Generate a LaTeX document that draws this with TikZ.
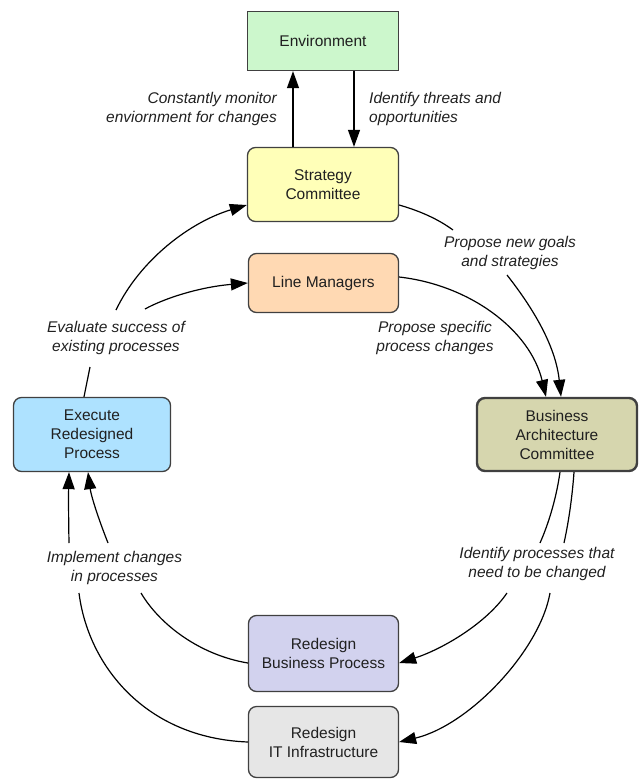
\documentclass[tikz,border=0pt]{standalone}
\usepackage{fontspec}
\setmainfont{Liberation Sans}
\usetikzlibrary{arrows.meta}
\definecolor{envc}{HTML}{CCF7CC}
\definecolor{stratc}{HTML}{FFFFB8}
\definecolor{lmc}{HTML}{FFD9B3}
\definecolor{exc}{HTML}{AEE2FF}
\definecolor{bacc}{HTML}{D6D6AE}
\definecolor{rbpc}{HTML}{D2D2EE}
\definecolor{ritc}{HTML}{E6E6E6}
\definecolor{edgec}{HTML}{404040}
\definecolor{txtc}{HTML}{202020}
\tikzset{
  box/.style={draw=edgec, line width=1.3pt, rounded corners=8pt, align=center, inner sep=0pt,
    font=\fontsize{15.5}{19}\selectfont, text=txtc},
  lbl/.style={align=center, inner sep=0pt, font=\fontsize{15.5}{19}\selectfont\itshape, text=txtc},
  conn/.style={line width=1.2pt, draw=black},
  arr/.style={conn, -{Triangle[length=17pt,width=12pt]}}
}
\begin{document}
\begin{tikzpicture}[x=1pt,y=-1pt]
\useasboundingbox (0,0) rectangle (639,780);
% boxes
\node[box, rounded corners=0pt, fill=envc, minimum width=151pt, minimum height=59pt] (E) at (323,41) {Environment};
\node[box, fill=stratc, minimum width=151pt, minimum height=74pt] (S) at (323,184.5) {Strategy\\Committee};
\node[box, fill=lmc, minimum width=150pt, minimum height=59pt] (L) at (323.5,283) {Line Managers};
\node[box, fill=exc, minimum width=157pt, minimum height=74pt] (X) at (92,434.5) {Execute\\Redesigned\\Process};
\node[box, fill=bacc, line width=2.4pt, minimum width=160pt, minimum height=73pt] (B) at (557,434.5) {Business\\Architecture\\Committee};
\node[box, fill=rbpc, minimum width=150pt, minimum height=76pt] (R) at (323.5,653.5) {Redesign\\Business Process};
\node[box, fill=ritc, minimum width=150pt, minimum height=71pt] (I) at (323.5,742) {Redesign\\IT Infrastructure};
% labels
\node[lbl, align=right, anchor=east] (lmon) at (277,108.5) {Constantly monitor\\enviornment for changes};
\node[lbl, align=left, anchor=west] (lthr) at (369,108.5) {Identify threats and\\opportunities};
\node[lbl] (lgoal) at (510,253) {Propose new goals\\and strategies};
\node[lbl] (lspec) at (435,338) {Propose specific\\process changes};
\node[lbl] (leval) at (116,338) {Evaluate success of\\existing processes};
\node[lbl] (limp) at (114.5,568) {Implement changes\\in processes};
\node[lbl] (lidp) at (537,564) {Identify processes that\\need to be changed};
% gap coordinates
\coordinate (g1) at (453,230);
\coordinate (g2) at (507,275);
\coordinate (e1) at (90,367);
\coordinate (e2) at (116,310);
\coordinate (e3) at (145,309);
\coordinate (i1) at (69,543);
\coordinate (i2) at (108,543);
\coordinate (i3) at (141,593);
\coordinate (i4) at (79,593);
\coordinate (d1) at (540,543);
\coordinate (d2) at (564,543);
\coordinate (d3) at (507,593);
\coordinate (d4) at (550,593);
% environment arrows
\draw[arr] (S.north -| 293,0) -- (E.south -| 293,0);
\draw[arr] (E.south -| 354,0) -- (S.north -| 354,0);
% strategy -> BAC
\draw[conn] (S.east |- 0,205) .. controls (420,211) and (438,219) .. (g1);
\draw[arr] (g2) .. controls (525,298) and (555,340) .. (B.north -| 561,0);
% line managers -> BAC
\draw[arr] (L.east |- 0,277) .. controls (470,285) and (530,330) .. (B.north -| 546,0);
% execute -> strategy / LM
\draw[conn] (X.north -| 84,0) -- (e1);
\draw[arr] (e2) .. controls (140,260) and (190,222) .. (S.west |- 0,205);
\draw[arr] (e3) .. controls (165,298) and (200,287) .. (L.west |- 0,283);
% implement
\draw[arr] (i1) .. controls (68.5,515) and (68.5,495) .. (X.south -| 69,0);
\draw[arr] (i2) .. controls (97,515) and (91,495) .. (X.south -| 88,0);
\draw[conn] (R.west |- 0,663) .. controls (200,655) and (160,625) .. (i3);
\draw[conn] (I.west |- 0,742) .. controls (145,738) and (88,665) .. (i4);
% identify processes
\draw[conn] (B.south -| 560,0) .. controls (556,500) and (548,525) .. (d1);
\draw[conn] (B.south -| 574,0) .. controls (572,500) and (568,525) .. (d2);
\draw[arr] (d3) .. controls (485,625) and (440,650) .. (R.east |- 0,663);
\draw[arr] (d4) .. controls (540,650) and (470,725) .. (I.east |- 0,742);
\end{tikzpicture}
\end{document}
